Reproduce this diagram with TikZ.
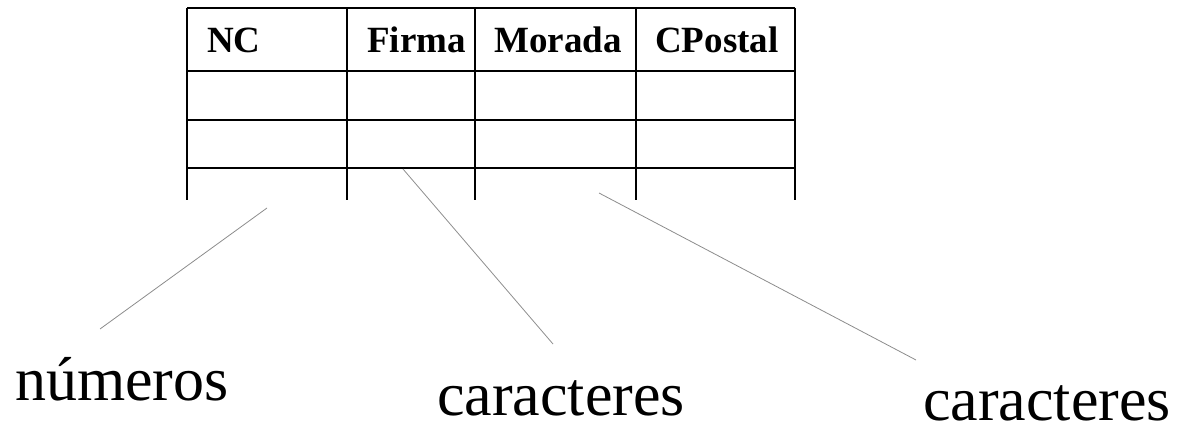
\documentclass[tikz,border=0pt]{standalone}
\usepackage{fontspec}
\setmainfont{Liberation Serif}
\begin{document}
\begin{tikzpicture}[x=1pt,y=-1pt,
  grid/.style={line width=2pt,black},
  hdr/.style={anchor=base west,inner sep=0pt,font=\fontsize{37}{44}\selectfont\bfseries},
  lbl/.style={anchor=base west,inner sep=0pt,text depth=0pt,font=\fontsize{62}{74}\selectfont},
  pointer/.style={line width=0.8pt,black!45}]
\useasboundingbox (0,0) rectangle (1182,430);
% table grid
\draw[grid] (187,8) -- (795,8);
\draw[grid] (187,71) -- (795,71);
\draw[grid] (187,120) -- (795,120);
\draw[grid] (187,168) -- (795,168);
\foreach \x in {187,347,475,636,795} \draw[grid] (\x,8) -- (\x,200);
% headers
\node[hdr] (nc) at (207,53) {NC};
\node[hdr] (firma) at (367,53) {Firma};
\node[hdr] (morada) at (494,53) {Morada};
\node[hdr] (cpostal) at (655,53) {CPostal};
% labels
\node[lbl] (num) at (15,400) {números};
\node[lbl] (car1) at (437,415) {caracteres};
\node[lbl] (car2) at (923,420) {caracteres};
% pointer ends
\coordinate (p1a) at (267,208);
\coordinate (p1b) at (100,329);
\coordinate (p2a) at (403,169);
\coordinate (p2b) at (553,344);
\coordinate (p3a) at (599,193);
\coordinate (p3b) at (916,360);
\draw[pointer] (p1a) -- (p1b);
\draw[pointer] (p2a) -- (p2b);
\draw[pointer] (p3a) -- (p3b);
\end{tikzpicture}
\end{document}
